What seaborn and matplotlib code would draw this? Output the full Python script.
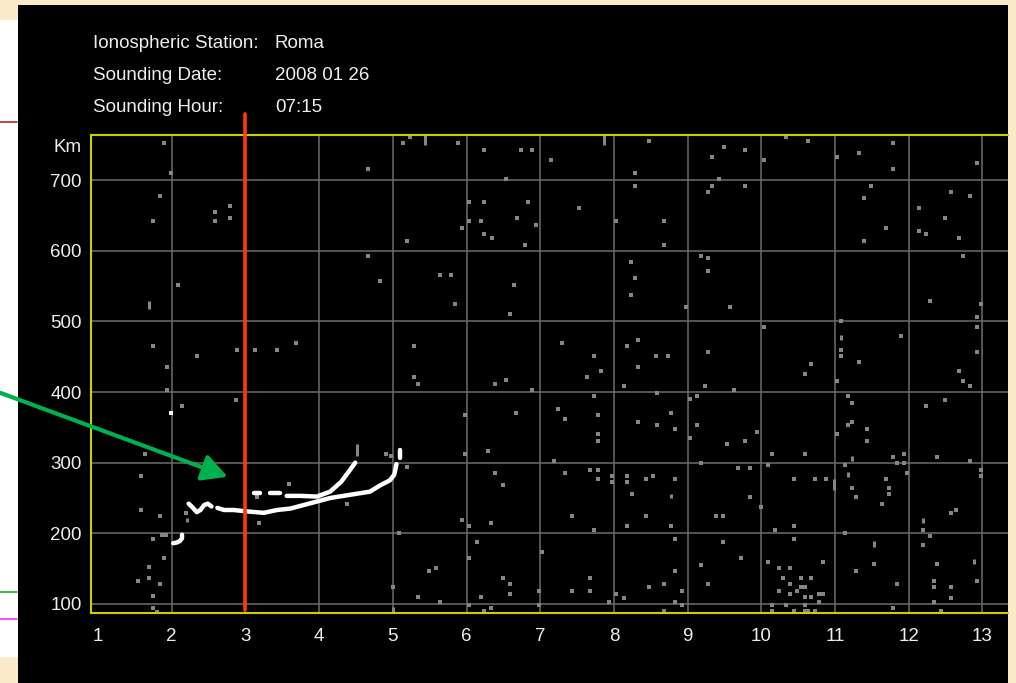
import matplotlib
matplotlib.use('Agg')
import matplotlib.pyplot as plt
import seaborn as sns
from matplotlib.patches import Rectangle
from matplotlib.lines import Line2D

# --- data (frequency in MHz, virtual height in km) ---
freq_ticks = list(range(1, 14))
height_ticks = [100, 200, 300, 400, 500, 600, 700]
grid_freqs = list(range(2, 14))

header_keys = ['Ionospheric Station:', 'Sounding Date:', 'Sounding Hour:']
header_vals = ['Roma', '2008 01 26', '07:15']

# isolated grey noise pixels
noise_freq = [
    1.89, 1.99, 1.84, 1.74, 2.59, 2.79, 2.59, 2.79, 4.67, 4.67, 4.83, 2.09, 1.74, 2.34, 1.94, 2.88, 3.13, 3.43, 3.68,
    5.14, 5.24, 5.89, 6.24, 6.74, 6.89, 7.14, 8.48, 8.28, 6.54, 8.28, 6.03, 6.24, 6.84, 7.53, 6.69, 6.03, 6.19, 6.94,
    5.94, 8.03, 8.68, 5.19, 6.24, 6.34, 6.79, 8.68, 9.18, 8.23, 8.28, 8.23, 8.98, 5.64, 5.79, 6.64, 5.84, 6.59, 5.29,
    7.29, 7.73, 7.83, 8.18, 8.33, 8.57, 8.73, 8.33,
    9.49, 9.33, 9.78, 9.43, 9.33, 9.78, 9.28, 10.34, 10.63, 10.03, 11.03, 11.33, 11.79, 11.79, 12.93, 11.49, 11.39,
    11.69, 11.39, 12.14, 12.58, 12.83, 12.49, 12.14, 12.24, 12.68, 12.73, 9.28, 9.28, 9.58, 12.29, 12.98, 12.93, 12.93,
    11.08, 10.03, 11.89, 11.08, 11.08, 11.33, 9.28, 10.68, 10.59, 12.68, 12.93,
    1.94, 2.87, 2.14, 1.64, 1.59, 1.59, 1.84, 1.74, 1.87, 1.92, 1.89, 1.69, 1.69, 1.54, 1.84, 1.74, 1.74, 1.80, 3.59,
    3.18, 4.38, 4.91, 4.97, 5.00, 2.19, 3.16,
    5.29, 5.34, 6.38, 6.54, 6.89, 7.63, 8.14, 8.58, 9.03, 9.13, 5.98, 6.67, 7.24, 7.33, 7.73, 7.78, 7.78, 7.78, 8.33,
    8.58, 8.78, 8.83, 9.03, 9.13, 5.98, 6.29, 7.19, 9.18, 5.19, 6.38, 6.49, 7.33, 7.68, 7.78, 7.78, 7.98, 7.98, 8.18,
    8.18, 8.43, 8.53, 8.83, 8.24, 7.43, 8.43, 5.94, 6.03, 6.33, 7.73, 8.18, 8.78, 5.09, 6.14, 7.03, 6.03, 8.83, 9.18,
    5.49, 5.59, 6.49, 6.59, 6.59, 7.68, 7.43, 7.68, 8.48, 8.68, 8.83, 8.93, 8.03, 8.14, 7.93, 8.83, 8.93, 8.68, 5.34,
    5.64, 6.19, 6.03, 6.33, 6.24, 6.99, 6.99,
    9.24, 9.63, 11.03, 12.74, 12.83, 11.18, 11.23, 12.24, 12.49, 11.23, 11.18, 11.43, 11.03, 11.43, 9.94, 9.78, 9.53,
    10.14, 10.59, 11.79, 11.94, 11.84, 11.94, 12.39, 12.83, 10.09, 9.68, 9.84, 11.13, 11.98, 12.98, 12.98, 10.44,
    10.73, 10.88, 11.69, 11.23, 11.73, 11.73, 11.28, 11.64, 9.84, 9.99, 9.38, 9.48, 10.19, 10.44, 12.64, 12.58, 12.19,
    12.29, 12.19, 11.13, 9.48, 10.44, 9.73, 10.09, 10.24, 10.39, 10.84, 10.29, 10.54, 10.68, 10.39, 10.24, 10.39,
    10.49, 10.54, 10.59, 10.59, 10.68, 10.78, 10.84, 10.78, 10.14, 10.34, 10.59, 10.14, 10.44, 10.59, 10.64, 10.73,
    9.28, 11.28, 11.53, 11.84, 11.79, 12.39, 12.34, 12.34, 12.58, 12.58, 12.34, 12.44, 12.93,
]
noise_height = [
    752, 710, 678, 642, 655, 664, 642, 646, 715, 593, 557, 552, 465, 451, 435, 460, 460, 460, 470,
    752, 761, 752, 743, 743, 743, 729, 756, 710, 702, 692, 669, 669, 669, 660, 646, 642, 642, 637,
    632, 642, 642, 614, 623, 618, 608, 608, 593, 584, 561, 538, 520, 566, 566, 552, 525, 511, 465,
    470, 451, 430, 465, 474, 451, 451, 435,
    747, 733, 743, 702, 692, 692, 683, 761, 756, 729, 733, 738, 752, 715, 724, 692, 674,
    632, 614, 660, 683, 678, 646, 628, 623, 618, 593, 589, 571, 520, 529, 525, 506, 492,
    501, 492, 479, 460, 451, 443, 456, 440, 426, 430, 456,
    403, 389, 380, 312, 281, 233, 224, 192, 198, 198, 165, 152, 137, 133, 128, 111, 94, 89, 270,
    215, 242, 312, 309, 124, 229, 252,
    421, 412, 412, 417, 403, 421, 408, 399, 390, 394, 367, 371, 376, 362, 394, 367, 340, 330, 358,
    353, 371, 348, 335, 353, 312, 317, 303, 299, 294, 285, 269, 285, 289, 289, 277, 281, 273, 281,
    273, 277, 281, 277, 256, 224, 224, 219, 210, 215, 205, 210, 210, 201, 188, 174, 165, 192, 155,
    146, 151, 137, 128, 114, 137, 119, 119, 124, 128, 146, 119, 114, 108, 103, 103, 98, 90, 110,
    103, 110, 98, 94, 90, 119, 98,
    408, 403, 416, 416, 408, 394, 385, 380, 389, 358, 353, 348, 340, 330, 344, 330, 326,
    312, 312, 308, 312, 299, 299, 308, 303, 297, 292, 292, 297, 285, 289, 281, 277,
    277, 277, 277, 264, 264, 256, 251, 242, 251, 237, 224, 224, 205, 210, 233, 229, 205,
    196, 183, 201, 188, 192, 165, 160, 151, 151, 160, 137, 137, 137, 128, 119, 114,
    119, 124, 124, 110, 110, 114, 114, 103, 98, 98, 98, 90, 90, 90, 90, 90,
    128, 146, 156, 128, 94, 156, 133, 124, 124, 108, 103, 90, 133,
]

# short vertical grey streaks
dash_freq = [1.69, 5.44, 7.86, 11.08, 4.51, 2.21, 8.78, 11.23, 11.18, 10.98, 12.19, 11.53, 12.88, 5.00]
dash_low = [517, 750, 750, 473, 310, 216, 250, 303, 280, 261, 214, 181, 157, 88]
dash_high = [529, 764, 764, 481, 326, 221, 256, 310, 287, 277, 221, 189, 164, 95]

# white echo traces
hook_freq = [2.02, 2.07, 2.11, 2.14, 2.14]
hook_height = [186, 187, 189, 193, 198]
squiggle_freq = [2.23, 2.28, 2.34, 2.39, 2.44, 2.49, 2.54]
squiggle_height = [242, 237, 230, 233, 240, 242, 238]
main_freq = [2.62, 2.71, 2.84, 3.02, 3.25, 3.43, 3.61, 3.79, 3.97, 4.15, 4.33, 4.51, 4.69, 4.83, 4.96, 5.02, 5.05]
main_height = [236, 233, 233, 231, 229, 233, 235, 240, 245, 250, 253, 256, 259, 268, 275, 283, 298]
upper_freq = [3.56, 3.75, 3.97, 4.15, 4.30, 4.40, 4.49]
upper_height = [253, 253, 252, 259, 273, 287, 300]
upper_dash_freq = [[3.12, 3.20], [3.33, 3.47], [5.10, 5.10]]
upper_dash_height = [[257, 257], [257, 257], [306, 318]]
white_dot_freq = [1.99]
white_dot_height = [370]

marker_freq = 3.0
marker_span = [91.5, 793]
arrow_tail = (-0.33, 399)
arrow_head = (2.76, 280)

# --- styling ---
PEACH = '#FBEBCB'
GRID = '#6c6c6c'
NOISE = '#858585'
YELLOW = '#CFCF00'

sns.set_theme(style='dark')
plt.rcParams['font.family'] = ['Liberation Sans', 'DejaVu Sans']
FS = 13.5

W, H = 1016, 683
def fx(px):
    return px / W
def fy(py):
    return 1 - py / H

fig = plt.figure(figsize=(10.16, 6.83), dpi=100, facecolor=PEACH)

# slide decorations: white strip + black screenshot panel
fig.patches.append(Rectangle((0, fy(657)), fx(18), fy(20) - fy(657), transform=fig.transFigure,
                             facecolor='white', edgecolor='none', zorder=-2))
fig.patches.append(Rectangle((fx(18), 0), fx(1008) - fx(18), fy(5), transform=fig.transFigure,
                             facecolor='black', edgecolor='none', zorder=-2))
for yy, col in [(122, '#B02828'), (592, '#22AA22'), (619, '#FF22FF')]:
    fig.add_artist(Line2D([0, fx(17)], [fy(yy), fy(yy)], color=col, lw=1.2))

ax = fig.add_axes([fx(91), fy(613), fx(1008) - fx(91), fy(135) - fy(613)])
ax.set_facecolor('black')
ax.set_xlim(0.905, 13.347)
ax.set_ylim(87.2, 763.8)

for g in grid_freqs:
    ax.axvline(g, color=GRID, lw=1.1, zorder=1)
for g in height_ticks:
    ax.axhline(g, color=GRID, lw=1.1, zorder=1)

sns.scatterplot(x=noise_freq, y=noise_height, marker='s', s=6, color=NOISE, linewidth=0, ax=ax, zorder=2)
ax.vlines(dash_freq, dash_low, dash_high, color=NOISE, lw=2.2, zorder=2)

for xs, ys in [(hook_freq, hook_height), (squiggle_freq, squiggle_height),
               (main_freq, main_height), (upper_freq, upper_height)] + list(zip(upper_dash_freq, upper_dash_height)):
    sns.lineplot(x=xs, y=ys, sort=False, estimator=None, color='white', lw=3.2, ax=ax, zorder=3, legend=False)
sns.scatterplot(x=white_dot_freq, y=white_dot_height, marker='s', s=12, color='white', linewidth=0, ax=ax, zorder=3)

ax.plot([marker_freq, marker_freq], marker_span, color='#FF3A0A', lw=2.6, clip_on=False, zorder=5)

for side in ['left', 'top', 'bottom']:
    ax.spines[side].set_color(YELLOW)
    ax.spines[side].set_linewidth(1.5)
    ax.spines[side].set_visible(True)
ax.spines['right'].set_visible(False)

ax.set_xticks(freq_ticks)
ax.set_xticklabels([str(t) for t in freq_ticks])
ax.set_yticks(height_ticks)
ax.set_yticklabels([str(t) for t in height_ticks])
ax.tick_params(axis='x', colors='#EEEEEE', length=0, labelsize=FS, pad=10.5)
ax.tick_params(axis='y', colors='#EEEEEE', length=0, labelsize=FS, pad=6.5)
ax.grid(False)
ax.set_xlabel('')
ax.set_ylabel('')

fig.text(fx(82), fy(147), 'Km', ha='right', va='center', color='#EEEEEE', fontsize=FS)
for i, (k, v) in enumerate(zip(header_keys, header_vals)):
    y = fy(43 + 32.5 * i)
    fig.text(fx(93), y, k, ha='left', va='center', color='#EEEEEE', fontsize=FS)
    fig.text(fx(275), y, v, ha='left', va='center', color='#EEEEEE', fontsize=FS)

ax.annotate('', xy=arrow_head, xytext=arrow_tail, annotation_clip=False,
            arrowprops=dict(arrowstyle='-|>,head_length=0.85,head_width=0.45', color='#00B050',
                            lw=3, mutation_scale=18, shrinkA=0, shrinkB=0), zorder=6)

fig.savefig('out.png', dpi=100, facecolor=fig.get_facecolor())
